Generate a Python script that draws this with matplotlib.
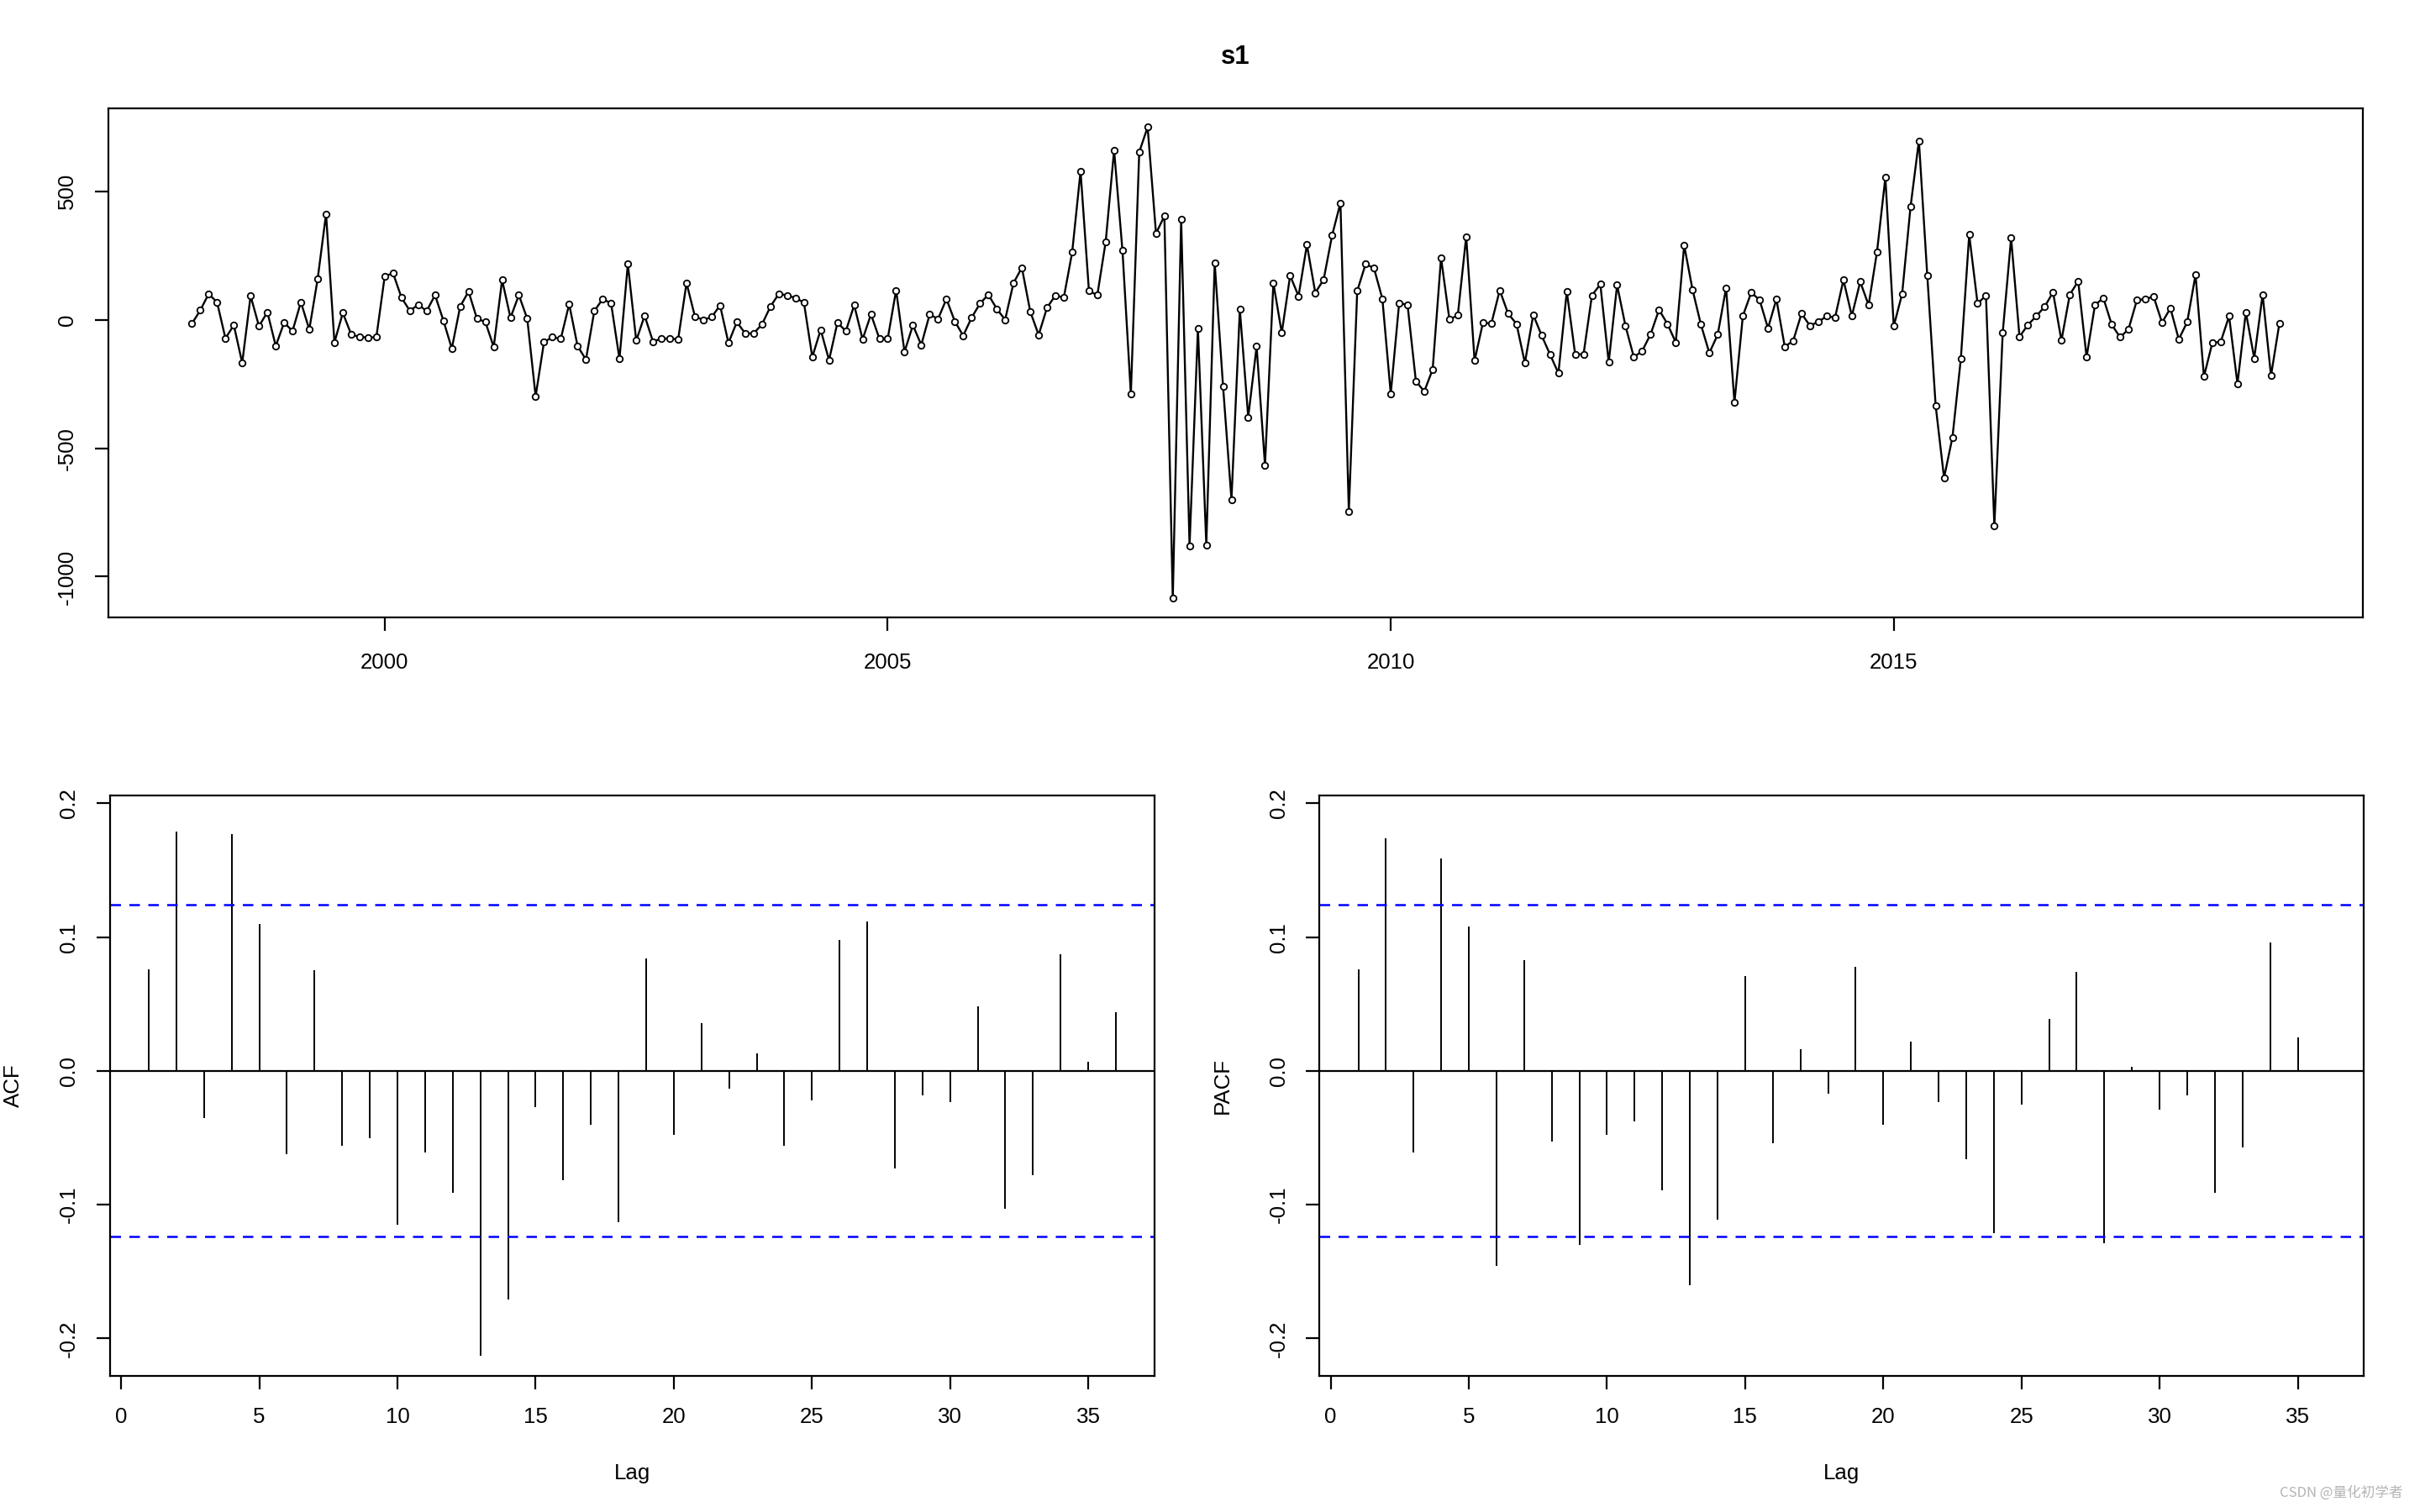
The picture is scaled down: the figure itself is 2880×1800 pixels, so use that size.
import matplotlib
matplotlib.use('Agg')
import matplotlib.pyplot as plt
import numpy as np
from matplotlib.ticker import FormatStrFormatter

plt.rcParams['font.family'] = ['Liberation Sans', 'DejaVu Sans']
plt.rcParams['axes.unicode_minus'] = False

# monthly series, Feb 1998 .. Nov 2018
start_year = 1998
start_month = 2
s1 = [-15, 37, 101, 68, -72, -21, -168, 93, -25, 30, -102, -11, -44, 69, -38, 159,
      412, -88, 27, -57, -67, -69, -68, 170, 181, 86, 35, 59, 34, 96, -3, -112,
      52, 110, 4, -8, -106, 155, 8, 96, 4, -298, -86, -68, -74, 61, -102, -155,
      34, 81, 64, -152, 217, -81, 16, -85, -73, -73, -76, 143, 13, -1, 11,
      56, -90, -9, -53, -53, -18, 51, 101, 95, 85, 67, -145, -39, -157, -11, -44,
      57, -76, 21, -73, -73, 115, -125, -21, -98, 21, 3, 81, -6, -62, 8,
      63, 98, 43, 0, 143, 203, 32, -59, 47, 95, 86, 263, 578, 112, 96, 304,
      660, 269, -289, 653, 750, 336, 404, -1085, 391, -880, -34, -877, 221, -260, -700,
      40, -379, -104, -566, 143, -51, 172, 92, 292, 105, 157, 328, 455, -746, 112, 217,
      201, 82, -288, 64, 59, -239, -279, -193, 241, 1, 18, 324, -159, -11, -15,
      115, 24, -16, -168, 19, -61, -135, -208, 110, -135, -134, 95, 138, -165, 135, -24,
      -146, -121, -56, 39, -16, -88, 290, 117, -19, -129, -58, 124, -321, 15, 106,
      77, -33, 80, -105, -82, 24, -23, -8, 14, 9, 155, 15, 148, 57, 264, 554,
      -25, 101, 439, 697, 172, -335, -615, -458, -153, 331, 63, 95, -803, -49, 318,
      -66, -20, 14, 51, 107, -81, 98, 150, -145, 57, 85, -19, -68, -37, 76, 81,
      90, -11, 45, -76, -9, 175, -221, -90, -86, 14, -249, 30, -150, 98, -218, -14]

lags = list(range(1, 37))
acf_vals = [0.076, 0.179, -0.035, 0.177, 0.110, -0.062, 0.075, -0.056, -0.050, -0.115,
            -0.061, -0.091, -0.213, -0.171, -0.027, -0.082, -0.040, -0.113, 0.084, -0.048,
            0.036, -0.013, 0.013, -0.056, -0.022, 0.098, 0.112, -0.073, -0.018, -0.023,
            0.048, -0.103, -0.078, 0.087, 0.007, 0.044]
pacf_vals = [0.076, 0.174, -0.061, 0.159, 0.108, -0.146, 0.083, -0.053, -0.130, -0.048,
             -0.038, -0.089, -0.160, -0.111, 0.071, -0.054, 0.016, -0.017, 0.078, -0.040,
             0.022, -0.023, -0.066, -0.121, -0.025, 0.039, 0.074, -0.129, 0.003, -0.029,
             -0.018, -0.091, -0.057, 0.096, 0.025, 0.0]

n = len(s1)
ci = 1.96 / np.sqrt(n)
t = start_year + (start_month - 1) / 12 + np.arange(n) / 12

FS = 9.3


def rstyle(ax):
    for sp in ax.spines.values():
        sp.set_linewidth(0.8)
    ax.tick_params(direction='out', length=5.8, width=0.8, labelsize=FS, pad=7.5)
    plt.setp(ax.get_yticklabels(), rotation=90, va='center')


fig = plt.figure(figsize=(14.4, 9), dpi=200)

# time series panel
ax1 = fig.add_axes([0.0448, 0.5917, 0.9316, 0.3367])
ax1.plot(t, s1, color='black', lw=0.85, marker='o', ms=2.7,
         mfc='white', mec='black', mew=0.65)
pad_x = 0.04 * (t[-1] - t[0])
pad_y = 0.04 * (max(s1) - min(s1))
ax1.set_xlim(t[0] - pad_x, t[-1] + pad_x)
ax1.set_ylim(min(s1) - pad_y, max(s1) + pad_y)
ax1.set_xticks([2000, 2005, 2010, 2015])
ax1.set_yticks([-1000, -500, 0, 500])
rstyle(ax1)
ax1.tick_params(axis='x', pad=9.5)
fig.text(0.0448 + 0.9316 / 2, 0.962, 's1', ha='center', va='center',
         fontsize=11.2, fontweight='bold')

# ACF / PACF panels
panels = [(0.0455, acf_vals, 'ACF'), (0.5453, pacf_vals, 'PACF')]
for left, vals, name in panels:
    ax = fig.add_axes([left, 0.09, 0.4316, 0.384])
    ax.vlines(lags, 0, vals, color='black', lw=0.7)
    ax.axhline(0, color='black', lw=0.8)
    ax.axhline(ci, color='blue', lw=0.9, ls=(0, (5, 4)))
    ax.axhline(-ci, color='blue', lw=0.9, ls=(0, (5, 4)))
    ax.set_xlim(-0.4, 37.4)
    ax.set_ylim(-0.228, 0.206)
    ax.set_xticks([0, 5, 10, 15, 20, 25, 30, 35])
    ax.set_yticks([-0.2, -0.1, 0.0, 0.1, 0.2])
    ax.yaxis.set_major_formatter(FormatStrFormatter('%.1f'))
    rstyle(ax)
    ax.set_ylabel(name, fontsize=FS)
    ax.yaxis.set_label_coords(-0.083, 0.5)
    ax.set_xlabel('Lag', fontsize=FS)
    ax.xaxis.set_label_coords(0.5, -0.150)

fig.text(0.993, 0.008, 'CSDN @量化初学者', ha='right', va='bottom', color='#b4b4b4',
         fontsize=6, family=['Noto Sans CJK SC', 'DejaVu Sans'])

fig.savefig('out.png', dpi=200)
